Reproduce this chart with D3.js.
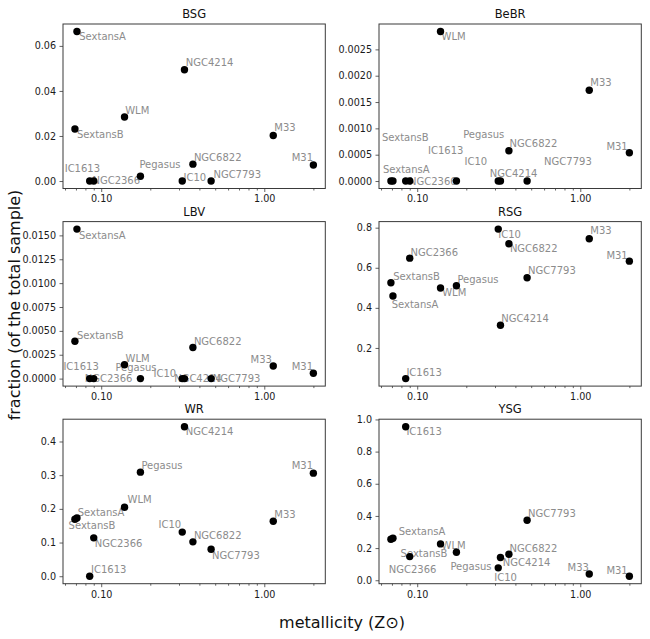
<!DOCTYPE html>
<html><head><meta charset="utf-8">
<script src="https://cdn.jsdelivr.net/npm/d3@7"></script>
<style>body{margin:0;background:#fff} svg{display:block;font-family:"DejaVu Sans",sans-serif}</style>
</head><body><svg id="c" width="650" height="639"></svg>
<script>
// ---- data ----
const galaxies = ["SextansA","SextansB","IC1613","NGC2366","WLM","Pegasus","IC10","NGC4214","NGC6822","NGC7793","M33","M31"];
const metallicity = [0.071, 0.069, 0.085, 0.090, 0.139, 0.174, 0.314, 0.324, 0.365, 0.472, 1.135, 2.0];
const panelNames = ["BSG","BeBR","LBV","RSG","WR","YSG"];
const bsgValues  = [0.0664, 0.0231, 0, 0, 0.0284, 0.0021, 0, 0.0494, 0.0075, 0, 0.0202, 0.0071];
const bebrValues = [0, 0, 0, 0, 0.00284, 0, 0, 0, 0.000574, 0, 0.001725, 0.000536];
const lbvValues  = [0.01566, 0.00392, 0, 0, 0.00146, 0, 0, 0, 0.00326, 0, 0.00132, 0.00056];
const rsgValues  = [0.459, 0.525, 0.047, 0.648, 0.499, 0.510, 0.793, 0.313, 0.720, 0.550, 0.745, 0.633];
const wrValues   = [0.173, 0.169, 0, 0.114, 0.205, 0.309, 0.131, 0.444, 0.102, 0.080, 0.163, 0.306];
const ysgValues  = [0.261, 0.255, 0.955, 0.147, 0.226, 0.174, 0.077, 0.141, 0.162, 0.373, 0.039, 0.025];
const bsgTicks  = [0, 0.02, 0.04, 0.06];
const bebrTicks = [0, 0.0005, 0.001, 0.0015, 0.002, 0.0025];
const lbvTicks  = [0, 0.0025, 0.005, 0.0075, 0.01, 0.0125, 0.015];
const rsgTicks  = [0.2, 0.4, 0.6, 0.8];
const wrTicks   = [0, 0.1, 0.2, 0.3, 0.4];
const ysgTicks  = [0, 0.2, 0.4, 0.6, 0.8, 1.0];
const xMajorTicks = [0.1, 1.0];
const xLabel = "metallicity (Z\u2299)";
const yLabel = "fraction (of the total sample)";

// ---- label placement (pixel offsets from each dot, per panel) ----
const labelOffsets = {
  BSG:  [[2.3,4.7],[2,5.7],[-25,-12.7],[-1.3,-0.7],[0.7,-6.3],[-1,-11.3],[1.3,-3.3],[1.3,-7.3],[1,-6.3],[2.3,-7],[1,-7.7],[-21.7,-7.3]],
  BeBR: [[-10,-11.7],[-9,-44],[22.3,-31],[-0.7,0],[1,5.3],[6.7,-46.7],[-33.7,-19.3],[-10.7,-7.3],[0.7,-7.3],[17,-19.3],[1,-7.7],[-23,-6.7]],
  LBV:  [[2,6],[2,-6],[-26.3,-12],[-9,0],[1,-6.3],[-25,-10.7],[-28.7,-4.7],[-10.3,0],[1,-6.3],[1.7,0],[-22.7,-6.7],[-21.7,-6.3]],
  RSG:  [[-1.3,8],[2.3,-6.3],[0.7,-6],[0.7,-6],[1.7,4.7],[1,-6.7],[0,5.3],[0.7,-7],[1,5],[1,-7],[1,-7.7],[-23,-6]],
  WR:   [[0.7,-5.7],[-6.3,6.3],[1.3,-6.3],[1,6],[3,-7.3],[1,-6.3],[-23.7,-7.3],[1.3,5],[1,-6.3],[1,6],[1,-6.7],[-21.7,-7.7]],
  YSG:  [[5.7,-6.3],[9.7,14.7],[0.7,5],[-21,13.3],[1,2],[-6,14],[-4,10],[2.3,4.7],[0.7,-6],[1,-7],[-21.7,-6],[-23,-6]]
};

const series = {BSG: bsgValues, BeBR: bebrValues, LBV: lbvValues, RSG: rsgValues, WR: wrValues, YSG: ysgValues};
const ticks  = {BSG: bsgTicks, BeBR: bebrTicks, LBV: lbvTicks, RSG: rsgTicks, WR: wrTicks, YSG: ysgTicks};
const fmts   = {BSG: ".2f", BeBR: ".4f", LBV: ".4f", RSG: ".1f", WR: ".1f", YSG: ".1f"};

const svg = d3.select("#c");
const colX = [63, 379], pw = 262.3;
const rowY = [24, 221.6, 419.2], ph = 164.5;
const frameColor = "#3a3a3a";

// x domain: log extent with 5% margins
const lx = d3.extent(metallicity).map(Math.log10);
const lpad = (lx[1]-lx[0])*0.05;
const xDomain = [Math.pow(10, lx[0]-lpad), Math.pow(10, lx[1]+lpad)];

panelNames.forEach((name, i) => {
  const col = i % 2, row = Math.floor(i/2);
  const g = svg.append("g").attr("transform", `translate(${colX[col]},${rowY[row]})`);
  const vals = series[name];
  const ext = d3.extent(vals);
  const pad = (ext[1]-ext[0])*0.05;
  const x = d3.scaleLog().domain(xDomain).range([0, pw]);
  const y = d3.scaleLinear().domain([ext[0]-pad, ext[1]+pad]).range([ph, 0]);

  // y axis
  const ya = g.append("g").call(d3.axisLeft(y).tickValues(ticks[name]).tickFormat(d3.format(fmts[name])).tickSize(3.5).tickPadding(3.5));
  // x axis majors
  const xa = g.append("g").attr("transform", `translate(0,${ph})`)
    .call(d3.axisBottom(x).tickValues(xMajorTicks).tickFormat(d3.format(".2f")).tickSize(3.5).tickPadding(3.5));
  // x minor ticks
  const minors = x.ticks().filter(t => !xMajorTicks.some(m => Math.abs(m-t) < 1e-9));
  g.append("g").attr("transform", `translate(0,${ph})`)
    .call(d3.axisBottom(x).tickValues(minors).tickFormat("").tickSize(2));
  g.selectAll(".domain").remove();
  g.selectAll(".tick line").attr("stroke", frameColor).attr("stroke-width", 0.8);
  g.selectAll(".tick text").attr("fill", "#1a1a1a").style("font-size", "9.6px").style("font-family", "DejaVu Sans");

  // labels
  const offs = labelOffsets[name];
  g.selectAll("text.lab").data(galaxies).join("text").attr("class","lab")
    .attr("x", (d,j) => x(metallicity[j]) + offs[j][0])
    .attr("y", (d,j) => y(vals[j]) + offs[j][1])
    .attr("dominant-baseline", "central")
    .attr("fill", "#8c8c8c").style("font-size", "10px")
    .text(d => d);

  // dots
  g.selectAll("circle").data(vals).join("circle")
    .attr("cx", (d,j) => x(metallicity[j]))
    .attr("cy", d => y(d))
    .attr("r", 3.7).attr("fill", "#000");

  // frame
  g.append("rect").attr("width", pw).attr("height", ph)
    .attr("fill", "none").attr("stroke", frameColor).attr("stroke-width", 1);

  // title
  g.append("text").attr("x", pw/2).attr("y", -6).attr("text-anchor", "middle")
    .attr("fill", "#111").style("font-size", "11.5px").text(name);
});

svg.append("text").attr("x", 342).attr("y", 622).attr("text-anchor","middle")
  .attr("dominant-baseline","central").attr("fill","#111").style("font-size","16px").text(xLabel);
svg.append("text").attr("transform","translate(14,305) rotate(-90)").attr("text-anchor","middle")
  .attr("dominant-baseline","central").attr("fill","#111").style("font-size","16px").text(yLabel);
</script></body></html>
